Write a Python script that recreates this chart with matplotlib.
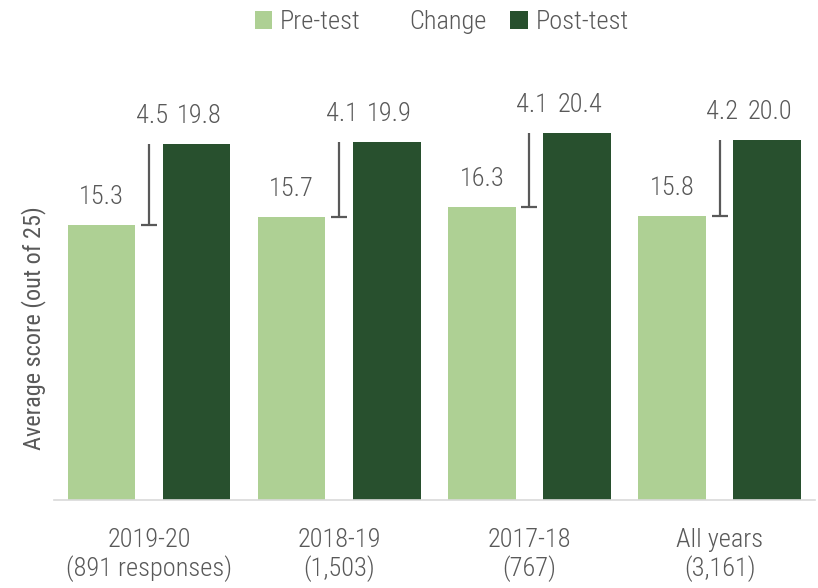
import matplotlib
matplotlib.use("Agg")
import matplotlib.pyplot as plt
from matplotlib import font_manager
from matplotlib.patches import Patch
import numpy as np

groups = ["2019-20\n(891 responses)", "2018-19\n(1,503)", "2017-18\n(767)", "All years\n(3,161)"]
pre_test = [15.3, 15.7, 16.3, 15.8]
post_test = [19.8, 19.9, 20.4, 20.0]
change = [4.5, 4.1, 4.1, 4.2]

PRE_COLOR = "#AED094"
POST_COLOR = "#28502E"
TEXT_COLOR = "#595959"

# pick a narrow font if one is installed
names = {f.name for f in font_manager.fontManager.ttflist}
family = "Roboto"
for cand in ["Roboto Condensed", "Liberation Sans Narrow", "Open Sans Condensed", "Noto Sans Condensed"]:
    if cand in names:
        family = cand
        break
plt.rcParams["font.family"] = [family, "DejaVu Sans"]
plt.rcParams["font.weight"] = "light"

fig = plt.figure(figsize=(8.18, 5.88), dpi=100)
ax = fig.add_axes([0.066, 0.15, 0.93, 0.765])

pre_x = np.arange(len(groups)) * 2
post_x = pre_x + 1
mid_x = pre_x + 0.5

ax.bar(pre_x, pre_test, width=0.71, color=PRE_COLOR, zorder=2)
ax.bar(post_x, post_test, width=0.71, color=POST_COLOR, zorder=2)

# change indicator: line from pre to post value with a cap at the bottom
ax.vlines(mid_x, pre_test, post_test, color=TEXT_COLOR, lw=1.6, zorder=3)
ax.plot(mid_x, pre_test, ls="none", marker="_", markersize=12, mew=1.6, color=TEXT_COLOR, zorder=3)

for i in range(len(groups)):
    ax.annotate(f"{pre_test[i]:.1f}", (pre_x[i], pre_test[i]), xytext=(0, 15), textcoords="offset points",
                ha="center", va="baseline", fontsize=19, color=TEXT_COLOR)
    ax.annotate(f"{post_test[i]:.1f}", (post_x[i], post_test[i]), xytext=(2, 15), textcoords="offset points",
                ha="center", va="baseline", fontsize=19, color=TEXT_COLOR)
    ax.annotate(f"{change[i]:.1f}", (mid_x[i], post_test[i]), xytext=(2, 15), textcoords="offset points",
                ha="center", va="baseline", fontsize=19, color=TEXT_COLOR)

ax.set_xlim(-0.5, 7.5)
ax.set_ylim(0, 25)
ax.set_yticks([])
ax.set_xticks(mid_x)
ax.set_xticklabels(groups, fontsize=19, color=TEXT_COLOR, linespacing=1.2)
ax.tick_params(axis="x", length=0, pad=20)

for s in ["top", "right", "left"]:
    ax.spines[s].set_visible(False)
ax.spines["bottom"].set_color("#D9D9D9")
ax.spines["bottom"].set_linewidth(1.2)

ax.set_ylabel("Average score (out of 25)", fontsize=17.5, color=TEXT_COLOR)
ax.yaxis.set_label_coords(-0.01, 0.382)

handles = [Patch(facecolor=PRE_COLOR), Patch(facecolor="none", edgecolor="none"), Patch(facecolor=POST_COLOR)]
fig.legend(handles, ["Pre-test", "Change", "Post-test"], loc="center", bbox_to_anchor=(0.54, 0.962),
           ncol=3, frameon=False, fontsize=19, labelcolor=TEXT_COLOR,
           handlelength=0.65, handleheight=0.65, handletextpad=0.3, columnspacing=0.9)

fig.savefig("out.png", dpi=100)
